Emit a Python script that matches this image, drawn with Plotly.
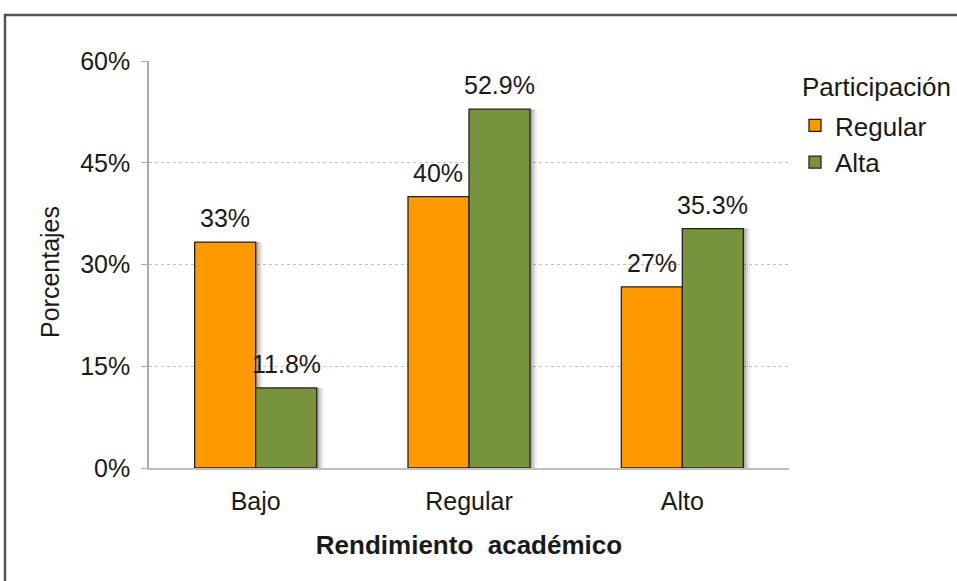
import plotly.graph_objects as go

categories = ["Bajo", "Regular", "Alto"]
regular_vals = [33.3, 40.0, 26.7]
alta_vals = [11.8, 52.9, 35.3]
regular_text = ["33%", "40%", "27%"]
alta_text = ["11.8%", "52.9%", "35.3%"]
y_ticks = [0, 15, 30, 45, 60]
y_ticklabels = ["0%", "15%", "30%", "45%", "60%"]

W = 0.286
FONT = "Liberation Sans, Arial, sans-serif"
TXT = "#1a1a1a"
L, PLOT_W, T, PLOT_H = 149, 640, 61, 407


def px_x(p):
    return (p - L) / PLOT_W


def px_y(p):
    return (T + PLOT_H - p) / PLOT_H


fig = go.Figure()
# soft drop shadows
for vals, off in [(regular_vals, -W), (alta_vals, 0)]:
    for dx, a in [(0.032, 0.07), (0.022, 0.11), (0.012, 0.17)]:
        fig.add_trace(go.Bar(x=categories, y=vals, width=W, offset=off + dx,
                             marker=dict(color=f"rgba(0,0,0,{a})", line=dict(width=0)),
                             showlegend=False, hoverinfo="skip"))
fig.add_trace(go.Bar(name="Regular", x=categories, y=regular_vals, width=W, offset=-W,
                     marker=dict(color="#FF9900", line=dict(color="#222222", width=1.3))))
fig.add_trace(go.Bar(name="Alta", x=categories, y=alta_vals, width=W, offset=0,
                     marker=dict(color="#77933C", line=dict(color="#222222", width=1.3))))

# value labels above bars
shift = W / 2 * PLOT_W / 3
for vals, texts, xs in [(regular_vals, regular_text, -shift), (alta_vals, alta_text, shift)]:
    for c, v, t in zip(categories, vals, texts):
        fig.add_annotation(x=c, y=v, text=t, showarrow=False, xref="x", yref="y",
                           xshift=xs, yshift=24, yanchor="middle",
                           font=dict(size=25, color=TXT, family=FONT))

fig.update_layout(
    width=957, height=581,
    margin=dict(l=L, r=957 - L - PLOT_W, t=T, b=581 - T - PLOT_H, autoexpand=False),
    barmode="overlay",
    plot_bgcolor="white", paper_bgcolor="white",
    font=dict(family=FONT, size=25, color=TXT),
    legend=dict(x=px_x(795), y=px_y(102), xanchor="left", yanchor="top",
                font=dict(size=26), itemwidth=30),
    showlegend=True,
)
fig.add_annotation(text="Participación", xref="paper", yref="paper",
                   x=px_x(800), y=px_y(87), xanchor="left", yanchor="middle",
                   showarrow=False, font=dict(size=26, color=TXT, family=FONT))
fig.add_annotation(text="Porcentajes", xref="paper", yref="paper",
                   x=px_x(50), y=px_y(272), xanchor="center", yanchor="middle",
                   textangle=-90, showarrow=False,
                   font=dict(size=25, color=TXT, family=FONT))

fig.update_xaxes(title=dict(text="<b>Rendimiento  académico</b>", font=dict(size=26), standoff=22),
                 showline=True, linecolor="#BFBFBF", linewidth=1.5, ticks="",
                 tickfont=dict(size=25), ticklabelstandoff=10)
fig.update_yaxes(range=[0, 60], tickvals=y_ticks, ticktext=y_ticklabels,
                 showline=True, linecolor="#AAAAAA", linewidth=1.5,
                 ticks="outside", ticklen=6, tickcolor="#AAAAAA",
                 showgrid=True, gridcolor="#C0C0C0", griddash="dot", gridwidth=1,
                 zeroline=False, tickfont=dict(size=25), ticklabelstandoff=6)

fig.add_shape(type="rect", xref="paper", yref="paper",
              x0=px_x(5), x1=px_x(1100), y0=px_y(700), y1=px_y(15),
              line=dict(color="#555555", width=2.5), layer="below")

fig.write_html("out.html", config={"displayModeBar": False},
               post_script="document.body.style.margin='0';")
